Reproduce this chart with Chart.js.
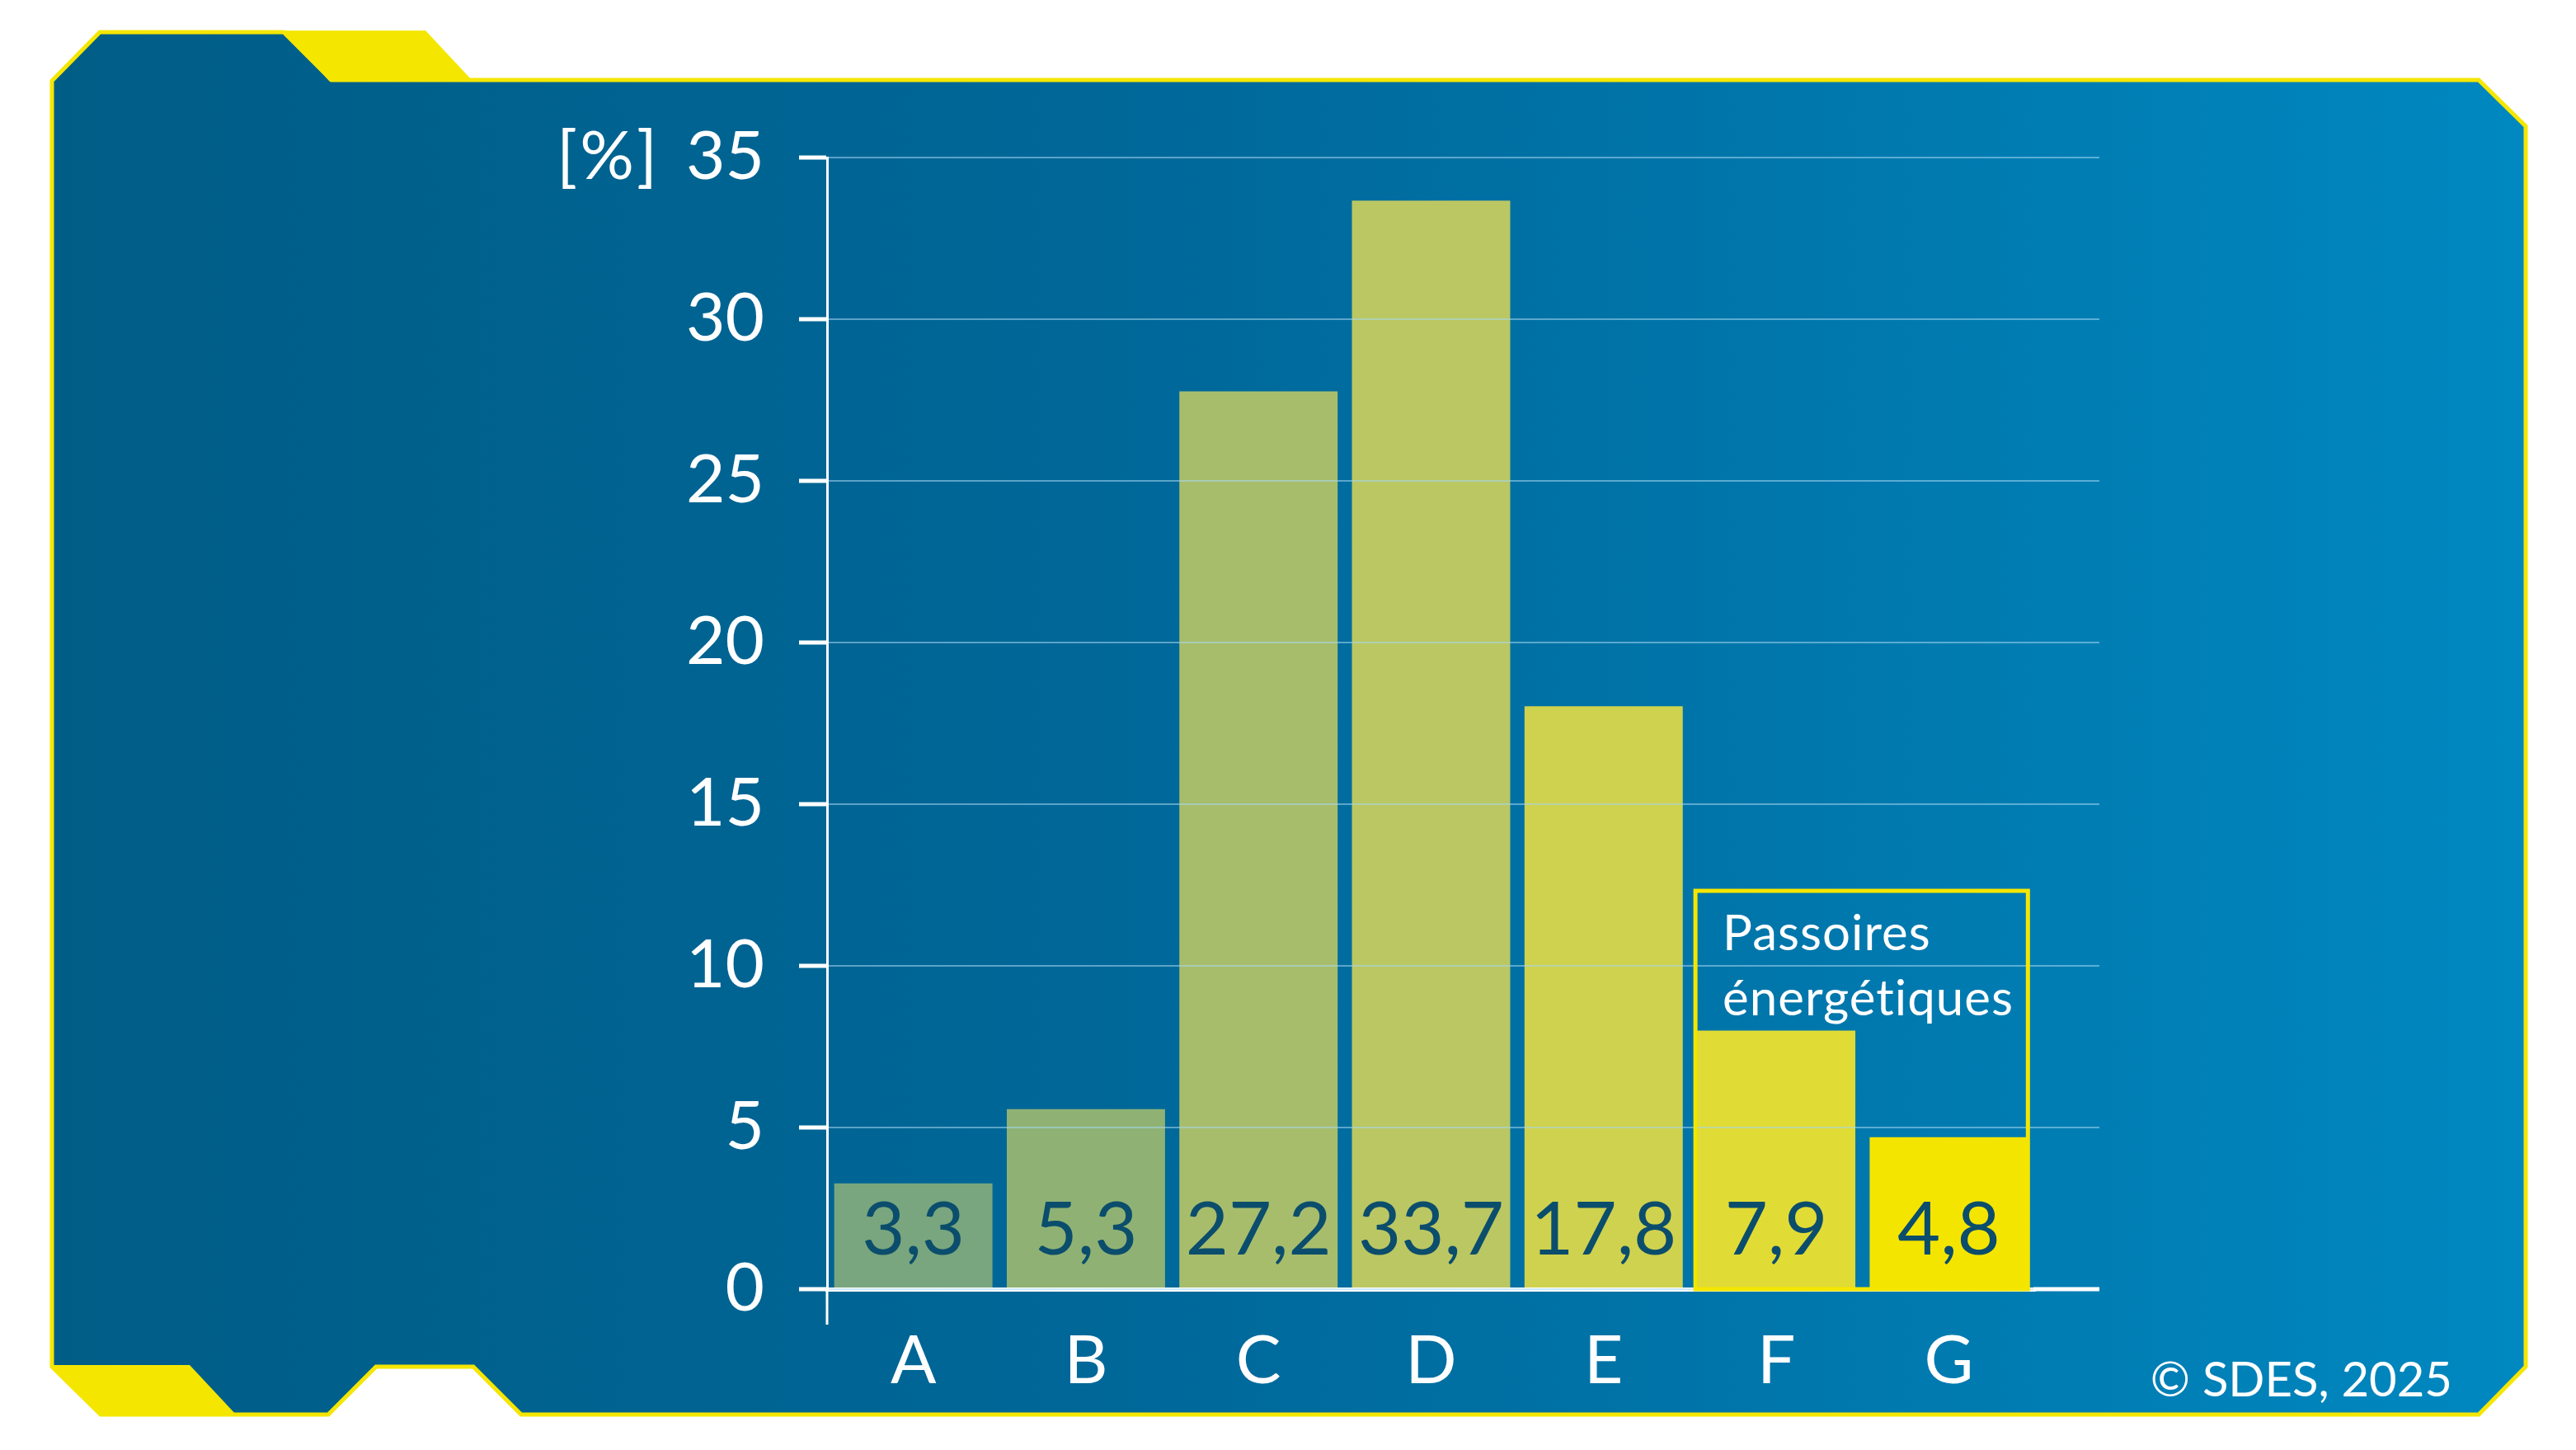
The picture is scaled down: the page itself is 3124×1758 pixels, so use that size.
<!DOCTYPE html>
<html lang="fr">
<head>
<meta charset="utf-8">
<title>Répartition par étiquette DPE</title>
<script src="https://cdn.jsdelivr.net/npm/chart.js@4.4.1/dist/chart.umd.min.js"></script>
<style>
  html, body { margin: 0; padding: 0; background: #fff; }
  canvas { display: block; }
</style>
</head>
<body>
<canvas id="dpeChart" width="3124" height="1758" style="width:3124px;height:1758px"></canvas>
<script>
// data
const categories = ['A', 'B', 'C', 'D', 'E', 'F', 'G'];
const barValues = [3.27, 5.57, 27.77, 33.67, 18.03, 8.0, 4.7];
const valueLabels = ['3,3', '5,3', '27,2', '33,7', '17,8', '7,9', '4,8'];
const yTickValues = [0, 5, 10, 15, 20, 25, 30, 35];
const unitLabel = '[%]';
const passoiresLines = ['Passoires', 'énergétiques'];
const passoiresTop = 12.32;
const sourceText = '© SDES, 2025';

const barColors = ['#79a67e', '#8fb274', '#a8bd6c', '#bbc763', '#cfd24e', '#e1db35', '#f4e500'];
const FONT = 'Lato, "Open Sans", sans-serif';
const YELLOW = '#f5e600';
const GRID = 'rgba(165, 215, 240, 0.55)';
const GRID_END = 2546;

// panel shape, yellow tabs
const panelPlugin = {
    id: 'panel',
    beforeDraw(chart) {
        const ctx = chart.ctx;
        ctx.save();
        ctx.fillStyle = '#fff';
        ctx.fillRect(0, 0, chart.width, chart.height);

        const grad = ctx.createLinearGradient(64, 0, 3063, 0);
        grad.addColorStop(0, '#005d86');
        grad.addColorStop(0.45, '#00689a');
        grad.addColorStop(1, '#0088c0');

        const pts = [
            [63, 98], [121, 39], [344, 39], [402, 97], [3006, 97], [3063, 153],
            [3063, 1657], [3006, 1715], [632, 1715], [574, 1657], [456, 1657],
            [398, 1715], [122, 1715], [63, 1657]
        ];
        ctx.beginPath();
        pts.forEach((p, i) => i ? ctx.lineTo(p[0], p[1]) : ctx.moveTo(p[0], p[1]));
        ctx.closePath();
        ctx.fillStyle = grad;
        ctx.fill();
        ctx.lineWidth = 5;
        ctx.strokeStyle = YELLOW;
        ctx.lineJoin = 'miter';
        ctx.stroke();

        ctx.fillStyle = YELLOW;
        ctx.beginPath();
        ctx.moveTo(344, 37); ctx.lineTo(516, 37); ctx.lineTo(574, 99); ctx.lineTo(400, 99);
        ctx.closePath();
        ctx.fill();
        ctx.beginPath();
        ctx.moveTo(61, 1655); ctx.lineTo(230, 1655); ctx.lineTo(288, 1717); ctx.lineTo(122, 1717);
        ctx.closePath();
        ctx.fill();
        ctx.restore();
    }
};

// value labels, extended grid, passoires box, texts
const extrasPlugin = {
    id: 'extras',
    afterDraw(chart) {
        const ctx = chart.ctx;
        const y = chart.scales.y;
        const area = chart.chartArea;
        const bars = chart.getDatasetMeta(0).data;
        const base = y.getPixelForValue(0);
        ctx.save();

        // grid lines run a bit past the last bar
        ctx.strokeStyle = GRID;
        ctx.lineWidth = 2;
        yTickValues.slice(1).forEach(v => {
            const py = y.getPixelForValue(v);
            ctx.beginPath();
            ctx.moveTo(area.right, py);
            ctx.lineTo(GRID_END, py);
            ctx.stroke();
        });
        ctx.strokeStyle = '#fff';
        ctx.lineWidth = 5;
        ctx.beginPath();
        ctx.moveTo(area.right - 2, base);
        ctx.lineTo(GRID_END, base);
        ctx.stroke();
        ctx.lineWidth = 3;
        ctx.beginPath();
        ctx.moveTo(area.left, base);
        ctx.lineTo(area.left, base + 43);
        ctx.stroke();

        // values inside the bars
        ctx.fillStyle = '#0b4d6c';
        ctx.font = '90px ' + FONT;
        ctx.textAlign = 'center';
        ctx.textBaseline = 'middle';
        bars.forEach((bar, i) => {
            ctx.fillText(valueLabels[i], bar.x, base - 71);
        });

        // passoires energetiques frame around F and G
        const f = bars[5], g = bars[6];
        const left = f.x - f.width / 2 - 2, right = g.x + g.width / 2;
        const top = y.getPixelForValue(passoiresTop);
        ctx.strokeStyle = YELLOW;
        ctx.lineWidth = 5;
        ctx.strokeRect(left, top, right - left, base - top);
        ctx.fillStyle = '#fff';
        ctx.font = '60px ' + FONT;
        ctx.letterSpacing = '1px';
        ctx.textAlign = 'left';
        ctx.textBaseline = 'alphabetic';
        passoiresLines.forEach((t, i) => ctx.fillText(t, left + 33, top + 72 + i * 79));
        ctx.letterSpacing = '0px';

        // unit and source
        ctx.font = '82px ' + FONT;
        ctx.textAlign = 'right';
        ctx.textBaseline = 'middle';
        ctx.letterSpacing = '3px';
        ctx.fillText(unitLabel, 800, y.getPixelForValue(35));
        ctx.letterSpacing = '0px';
        ctx.font = '58px ' + FONT;
        ctx.fillText(sourceText, 2974, 1674);
        ctx.restore();
    }
};

const ctx = document.getElementById('dpeChart').getContext('2d');
const dpeChart = new Chart(ctx, {
    type: 'bar',
    data: {
        labels: categories,
        datasets: [{
            data: barValues,
            backgroundColor: barColors,
            borderWidth: 0,
            barPercentage: 0.917,
            categoryPercentage: 1
        }]
    },
    options: {
        responsive: false,
        devicePixelRatio: 1,
        animation: false,
        layout: {
            padding: { top: 191, right: 656, bottom: 0, left: 0 }
        },
        plugins: {
            legend: { display: false },
            tooltip: { enabled: false }
        },
        scales: {
            x: {
                grid: { display: false, drawTicks: false },
                border: { display: true, color: '#fff', width: 5, z: 1 },
                ticks: {
                    color: '#fff',
                    padding: 38,
                    font: { family: FONT, size: 82 }
                },
                afterFit(scale) { scale.height = 195; }
            },
            y: {
                min: 0,
                max: 35,
                afterBuildTicks(scale) { scale.ticks = yTickValues.map(v => ({ value: v })); },
                grid: {
                    color: GRID,
                    lineWidth: 2,
                    tickColor: '#fff',
                    tickWidth: 5,
                    tickLength: 34,
                    z: 1
                },
                border: { display: true, color: '#fff', width: 3, z: 1 },
                ticks: {
                    color: '#fff',
                    padding: 42,
                    font: { family: FONT, size: 82 }
                },
                afterFit(scale) { scale.width = 1003; }
            }
        }
    },
    plugins: [panelPlugin, extrasPlugin]
});
</script>
</body>
</html>
